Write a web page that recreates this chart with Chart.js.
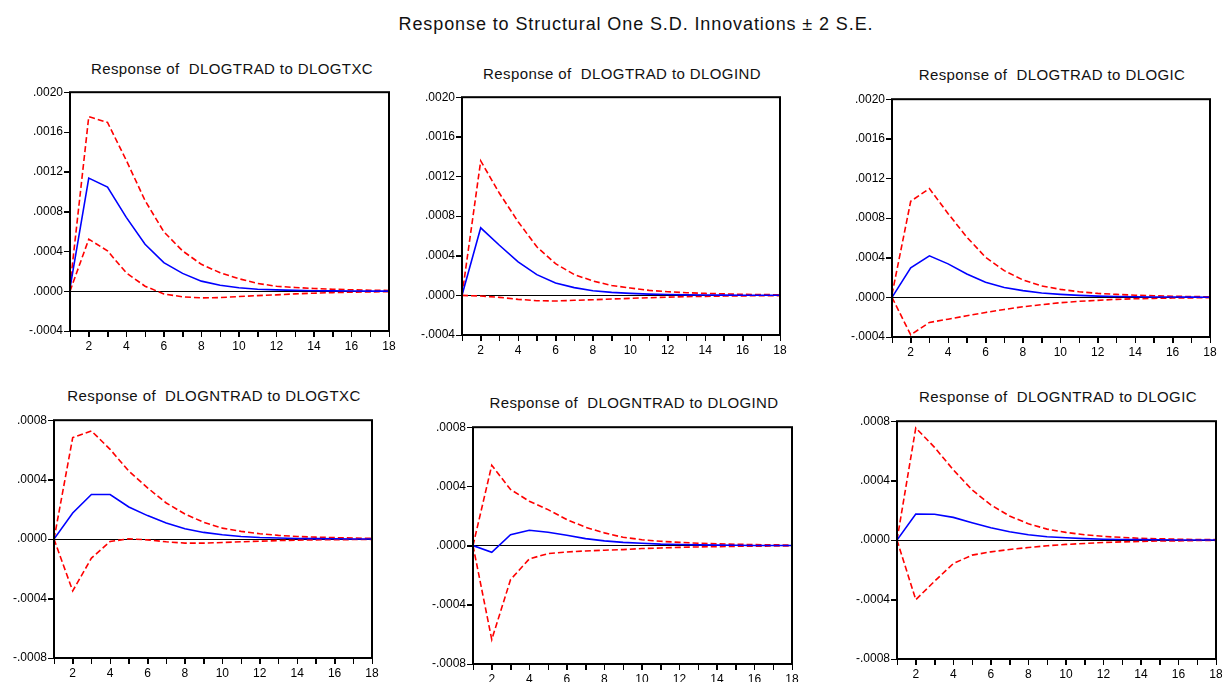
<!DOCTYPE html>
<html>
<head>
<meta charset="utf-8">
<script src="https://cdn.jsdelivr.net/npm/chart.js@4/dist/chart.umd.min.js"></script>
<style>
  html, body { margin: 0; padding: 0; overflow: hidden; background: #fff; }
  body { width: 1222px; height: 682px; position: relative; font-family: "Liberation Sans", Arial, sans-serif; }
  canvas { position: absolute; }
  .ttl { position: absolute; width: 400px; text-align: center; white-space: pre; color: #111;
         font-size: 15px; line-height: 15px; letter-spacing: 0.4px; }
  #main { font-size: 18px; line-height: 18px; letter-spacing: 0.9px; width: 600px; }
</style>
</head>
<body>
<div id="main" class="ttl">Response to Structural One S.D. Innovations ± 2 S.E.</div>

<script>
// periods of the impulse response
const periods = [1, 2, 3, 4, 5, 6, 7, 8, 9, 10, 11, 12, 13, 14, 15, 16, 17, 18];

const yTicksTop = [-0.0004, 0, 0.0004, 0.0008, 0.0012, 0.0016, 0.0020];
const yTicksBottom = [-0.0008, -0.0004, 0, 0.0004, 0.0008];

// DLOGTRAD to DLOGTXC
const tradTxc = [0.00003, 0.001137, 0.001046, 0.000742, 0.000472, 0.000287, 0.000179, 0.000101, 0.00006, 0.000034, 0.00002, 0.000013, 0.000008, 0.000005, 0.000003, 0.000002, 0.000001, 0.000001];
const tradTxcUp = [0.00005, 0.001754, 0.001696, 0.001315, 0.000911, 0.000597, 0.000405, 0.00027, 0.000186, 0.000125, 0.000078, 0.00005, 0.000037, 0.000027, 0.00002, 0.000014, 0.00001, 0.000007];
const tradTxcLo = [0, 0.000523, 0.000405, 0.000185, 0.00005, -0.000027, -0.000057, -0.000067, -0.000064, -0.000054, -0.000044, -0.000037, -0.000027, -0.00002, -0.000014, -0.00001, -0.000007, -0.000004];

// DLOGTRAD to DLOGIND
const tradInd = [0, 0.000682, 0.000506, 0.000338, 0.000209, 0.000125, 0.000078, 0.000047, 0.00003, 0.00002, 0.000013, 0.000008, 0.000005, 0.000003, 0.000002, 0.000001, 0.000001, 0.000001];
const tradIndUp = [0, 0.001357, 0.00103, 0.000743, 0.00049, 0.00032, 0.00021, 0.000145, 0.0001, 0.000074, 0.00005, 0.000037, 0.000027, 0.00002, 0.000015, 0.00001, 0.000008, 0.000006];
const tradIndLo = [0, -0.000007, -0.00002, -0.00004, -0.000054, -0.000057, -0.00005, -0.000044, -0.000037, -0.00003, -0.000024, -0.000018, -0.000013, -0.00001, -0.000007, -0.000005, -0.000004, -0.000003];

// DLOGTRAD to DLOGIC
const tradIc = [0, 0.000297, 0.000419, 0.000338, 0.000236, 0.000152, 0.0001, 0.000068, 0.000044, 0.00003, 0.00002, 0.000013, 0.000009, 0.000006, 0.000004, 0.000003, 0.000002, 0.000001];
const tradIcUp = [0.00003, 0.00097, 0.001098, 0.000845, 0.000608, 0.000405, 0.00027, 0.000176, 0.000115, 0.000081, 0.000057, 0.00004, 0.00003, 0.000022, 0.000016, 0.000012, 0.000008, 0.000006];
const tradIcLo = [0, -0.000378, -0.000253, -0.00022, -0.000186, -0.000152, -0.000122, -0.000095, -0.000074, -0.000054, -0.00004, -0.00003, -0.00002, -0.000014, -0.00001, -0.000007, -0.000005, -0.000003];

// DLOGNTRAD to DLOGTXC
const ntradTxc = [0, 0.000176, 0.0003, 0.0003, 0.000216, 0.000158, 0.000108, 0.00007, 0.000045, 0.000029, 0.000018, 0.000011, 0.000007, 0.000004, 0.000003, 0.000002, 0.000001, 0.000001];
const ntradTxcUp = [0, 0.000683, 0.000728, 0.000604, 0.000457, 0.000345, 0.000243, 0.000169, 0.000113, 0.000074, 0.000052, 0.000036, 0.000025, 0.000018, 0.000013, 0.00001, 0.000007, 0.000005];
const ntradTxcLo = [0, -0.000349, -0.000128, -0.000016, 0.000002, -0.000005, -0.000018, -0.000027, -0.000027, -0.000023, -0.000018, -0.000014, -0.00001, -0.000007, -0.000005, -0.000004, -0.000003, -0.000002];

// DLOGNTRAD to DLOGIND
const ntradInd = [0, -0.000045, 0.000074, 0.000104, 0.00009, 0.00007, 0.000047, 0.000032, 0.000022, 0.000016, 0.00001, 0.000007, 0.000005, 0.000003, 0.000002, 0.000001, 0.000001, 0.000001];
const ntradIndUp = [0, 0.000543, 0.000379, 0.0003, 0.000243, 0.000176, 0.000124, 0.000086, 0.000056, 0.00004, 0.000029, 0.000022, 0.000016, 0.000012, 0.000009, 0.000007, 0.000005, 0.000004];
const ntradIndLo = [0, -0.000635, -0.00023, -0.00009, -0.000054, -0.000043, -0.000036, -0.000031, -0.000027, -0.00002, -0.000016, -0.000012, -0.000009, -0.000007, -0.000005, -0.000004, -0.000003, -0.000002];

// DLOGNTRAD to DLOGIC
const ntradIc = [0, 0.000176, 0.000174, 0.000153, 0.000117, 0.000083, 0.000056, 0.000036, 0.000023, 0.000016, 0.00001, 0.000006, 0.000004, 0.000003, 0.000002, 0.000001, 0.000001, 0.000001];
const ntradIcUp = [0, 0.000755, 0.000624, 0.000473, 0.000338, 0.000237, 0.000162, 0.00011, 0.000074, 0.000052, 0.000036, 0.000025, 0.000018, 0.000012, 0.000009, 0.000006, 0.000004, 0.000003];
const ntradIcLo = [0, -0.000401, -0.000277, -0.000158, -0.000101, -0.000079, -0.000063, -0.00005, -0.000038, -0.000029, -0.000023, -0.000016, -0.000012, -0.000009, -0.000006, -0.000005, -0.000003, -0.000002];

// plot boxes (left, top, right, bottom) and title anchors
const panels = [
  { title: "Response of  DLOGTRAD to DLOGTXC", box: [70, 92, 389, 331], tx: 232, ty: 61, yt: yTicksTop, s: [tradTxc, tradTxcUp, tradTxcLo] },
  { title: "Response of  DLOGTRAD to DLOGIND", box: [462, 97, 780, 335], tx: 622, ty: 66, yt: yTicksTop, s: [tradInd, tradIndUp, tradIndLo] },
  { title: "Response of  DLOGTRAD to DLOGIC", box: [892, 99, 1210, 337], tx: 1052, ty: 67, yt: yTicksTop, s: [tradIc, tradIcUp, tradIcLo] },
  { title: "Response of  DLOGNTRAD to DLOGTXC", box: [54, 420, 372, 658], tx: 214, ty: 388, yt: yTicksBottom, s: [ntradTxc, ntradTxcUp, ntradTxcLo] },
  { title: "Response of  DLOGNTRAD to DLOGIND", box: [473, 427, 792, 664], tx: 634, ty: 395, yt: yTicksBottom, s: [ntradInd, ntradIndUp, ntradIndLo] },
  { title: "Response of  DLOGNTRAD to DLOGIC", box: [897, 421, 1216, 659], tx: 1058, ty: 389, yt: yTicksBottom, s: [ntradIc, ntradIcUp, ntradIcLo] },
];

const YW = 52, XH = 26, PT = 8, PR = 10, TICK = 6;

const main = document.getElementById("main");
main.style.left = (636 - 300) + "px";
main.style.top = "15px";

// frame around the plot area plus outward tick marks
const frame = {
  id: "frame",
  afterDraw(chart) {
    const { ctx, chartArea: a, scales } = chart;
    ctx.save();
    ctx.strokeStyle = "#000";
    ctx.lineWidth = 1;
    ctx.beginPath();
    scales.x.ticks.forEach((t) => {
      const px = Math.round(scales.x.getPixelForValue(t.value)) + 0.5;
      ctx.moveTo(px, a.bottom);
      ctx.lineTo(px, a.bottom + TICK);
    });
    scales.y.ticks.forEach((t) => {
      const py = Math.round(scales.y.getPixelForValue(t.value)) + 0.5;
      ctx.moveTo(a.left - TICK, py);
      ctx.lineTo(a.left, py);
    });
    ctx.stroke();
    ctx.lineWidth = 2;
    ctx.strokeRect(a.left, a.top, a.right - a.left, a.bottom - a.top);
    ctx.restore();
  },
};

function fmt(v) {
  let s = Math.abs(v).toFixed(4).replace(/^0/, "");
  return (v < -1e-10 ? "-" : "") + s;
}

function pts(arr) {
  return periods.map((p, i) => ({ x: p, y: arr[i] }));
}

panels.forEach(function (p) {
  const [L, T, R, B] = p.box;

  const t = document.createElement("div");
  t.className = "ttl";
  t.textContent = p.title;
  t.style.left = (p.tx - 200) + "px";
  t.style.top = p.ty + "px";
  document.body.appendChild(t);

  const cv = document.createElement("canvas");
  cv.width = R - L + YW + PR;
  cv.height = B - T + PT + XH;
  cv.style.left = (L - YW) + "px";
  cv.style.top = (T - PT) + "px";
  document.body.appendChild(cv);

  const font = { family: "'Liberation Sans', Arial, sans-serif", size: 12 };

  new Chart(cv.getContext("2d"), {
    type: "line",
    data: {
      datasets: [
        { data: pts(p.s[0]), borderColor: "#0000ff", borderWidth: 1.6 },
        { data: pts(p.s[1]), borderColor: "#ff0000", borderWidth: 1.6, borderDash: [6, 3] },
        { data: pts(p.s[2]), borderColor: "#ff0000", borderWidth: 1.6, borderDash: [6, 3] },
      ],
    },
    options: {
      responsive: false,
      animation: false,
      layout: { padding: { top: PT, right: PR, left: 0, bottom: 0 } },
      elements: { point: { radius: 0 }, line: { tension: 0 } },
      plugins: { legend: { display: false }, tooltip: { enabled: false } },
      scales: {
        x: {
          type: "linear",
          min: 1,
          max: 18,
          afterBuildTicks: (s) => { s.ticks = periods.map((v) => ({ value: v })); },
          afterFit: (s) => { s.height = XH; },
          border: { display: false },
          grid: { drawOnChartArea: false, tickLength: TICK, tickColor: "#000", tickWidth: 1 },
          ticks: {
            autoSkip: false,
            maxRotation: 0,
            padding: 2,
            color: "#000",
            font: font,
            callback: (v) => (v % 2 === 0 ? String(v) : ""),
          },
        },
        y: {
          min: p.yt[0],
          max: p.yt[p.yt.length - 1],
          afterBuildTicks: (s) => { s.ticks = p.yt.map((v) => ({ value: v })); },
          afterFit: (s) => { s.width = YW; },
          border: { display: false },
          grid: {
            color: (c) => (c.tick && Math.abs(c.tick.value) < 1e-10 ? "#000" : "rgba(0,0,0,0)"),
            lineWidth: 1,
            tickLength: TICK,
            tickColor: "#000",
          },
          ticks: { padding: 1, color: "#000", font: font, callback: (v) => fmt(v) },
        },
      },
    },
    plugins: [frame],
  });
});
</script>
</body>
</html>
